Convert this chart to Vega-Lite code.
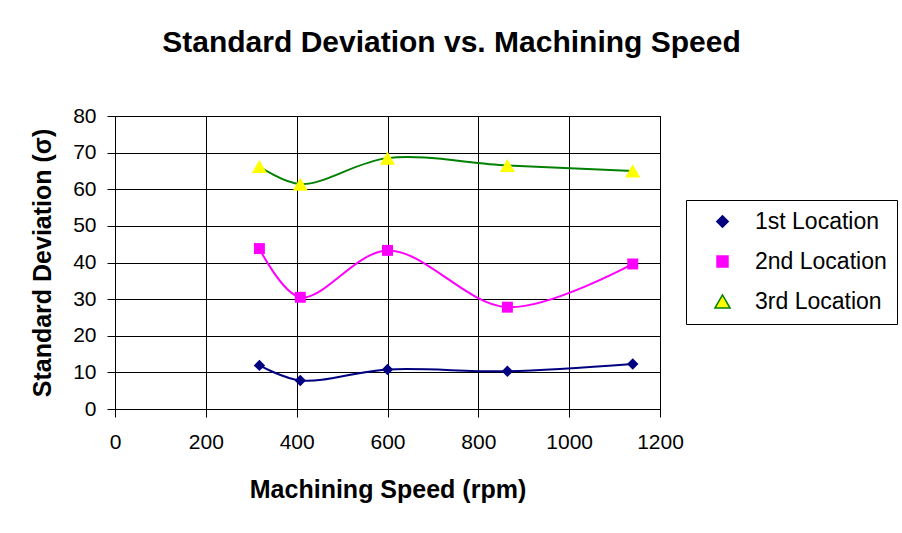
{
  "$schema": "https://vega.github.io/schema/vega-lite/v6.json",
  "width": 545,
  "height": 293,
  "autosize": {"type": "none"},
  "padding": {"left": 115, "top": 116, "right": 242, "bottom": 124},
  "background": "white",
  "title": {
    "text": "Standard Deviation vs. Machining Speed",
    "font": "Liberation Sans",
    "fontSize": 30,
    "fontWeight": "bold",
    "color": "black",
    "anchor": "middle",
    "dx": 64,
    "offset": 47
  },
  "data": {
    "values": [
      {"series": "1st Location", "rpm": 318, "sd": 11.9},
      {"series": "1st Location", "rpm": 408, "sd": 7.8},
      {"series": "1st Location", "rpm": 600, "sd": 10.8},
      {"series": "1st Location", "rpm": 864, "sd": 10.3},
      {"series": "1st Location", "rpm": 1140, "sd": 12.3},
      {"series": "2nd Location", "rpm": 318, "sd": 43.8},
      {"series": "2nd Location", "rpm": 408, "sd": 30.5},
      {"series": "2nd Location", "rpm": 600, "sd": 43.3},
      {"series": "2nd Location", "rpm": 864, "sd": 27.8},
      {"series": "2nd Location", "rpm": 1140, "sd": 39.6},
      {"series": "3rd Location", "rpm": 318, "sd": 66.2},
      {"series": "3rd Location", "rpm": 408, "sd": 61.4},
      {"series": "3rd Location", "rpm": 600, "sd": 68.5},
      {"series": "3rd Location", "rpm": 864, "sd": 66.5},
      {"series": "3rd Location", "rpm": 1140, "sd": 65.0}
    ]
  },
  "encoding": {
    "x": {
      "field": "rpm",
      "type": "quantitative",
      "scale": {"domain": [0, 1200], "nice": false},
      "axis": {
        "title": "Machining Speed (rpm)",
        "values": [0, 200, 400, 600, 800, 1000, 1200],
        "format": "d",
        "labelPadding": 14,
        "titlePadding": 25,
        "labelFlush": false,
        "labelOverlap": false
      }
    },
    "y": {
      "field": "sd",
      "type": "quantitative",
      "scale": {"domain": [0, 80], "nice": false},
      "axis": {
        "title": "Standard Deviation (σ)",
        "values": [0, 10, 20, 30, 40, 50, 60, 70, 80],
        "labelPadding": 11,
        "titlePadding": 17
      }
    }
  },
  "layer": [
    {
      "mark": {"type": "line", "interpolate": "catmull-rom", "strokeWidth": 2},
      "encoding": {
        "stroke": {
          "field": "series",
          "type": "nominal",
          "scale": {"domain": ["1st Location", "2nd Location", "3rd Location"], "range": ["#000080", "#FF00FF", "#008000"]}
        }
      }
    },
    {
      "mark": {"type": "point", "filled": true, "opacity": 1},
      "encoding": {
        "fill": {
          "field": "series",
          "type": "nominal",
          "scale": {"domain": ["1st Location", "2nd Location", "3rd Location"], "range": ["#000080", "#FF00FF", "#FFFF00"]},
          "legend": {
            "title": null,
            "orient": "none",
            "legendX": 571,
            "legendY": 84,
            "padding": 10,
            "strokeColor": "black",
            "fillColor": "white",
            "labelFont": "Liberation Sans",
            "labelFontSize": 23,
            "labelColor": "black",
            "symbolSize": 144,
            "symbolOffset": 15,
            "labelOffset": 21,
            "rowPadding": 16,
            "encode": {
              "symbols": {
                "shape": {"value": {"expr": "datum.value === '1st Location' ? 'M-4.4,0H4.4M0,-0.95L0.95,0L0,0.95L-0.95,0Z' : datum.value === '2nd Location' ? 'M-4.4,0H4.4M-0.8,-0.8H0.8V0.8H-0.8Z' : 'M-4.4,0H-0.9M0.9,0H4.4M0,-1L1,0.85H-1Z'"}},
                "strokeWidth": {"value": 1.5},
                "size": {"value": 144}
              }
            }
          }
        },
        "shape": {
          "field": "series",
          "type": "nominal",
          "scale": {"domain": ["1st Location", "2nd Location", "3rd Location"], "range": ["diamond", "square", "triangle-up"]}
        },
        "size": {
          "field": "series",
          "type": "nominal",
          "scale": {"type": "ordinal", "domain": ["1st Location", "2nd Location", "3rd Location"], "range": [130, 120, 230]}
        }
      }
    }
  ],
  "config": {
    "view": {"stroke": "black", "strokeWidth": 1},
    "axis": {
      "domainColor": "black",
      "tickColor": "black",
      "gridColor": "black",
      "gridOpacity": 1,
      "gridWidth": 1,
      "grid": true,
      "labelColor": "black",
      "titleColor": "black",
      "labelFont": "Liberation Sans",
      "titleFont": "Liberation Sans",
      "labelFontSize": 21,
      "titleFontSize": 25,
      "titleFontWeight": "bold",
      "tickSize": 8
    }
  }
}
